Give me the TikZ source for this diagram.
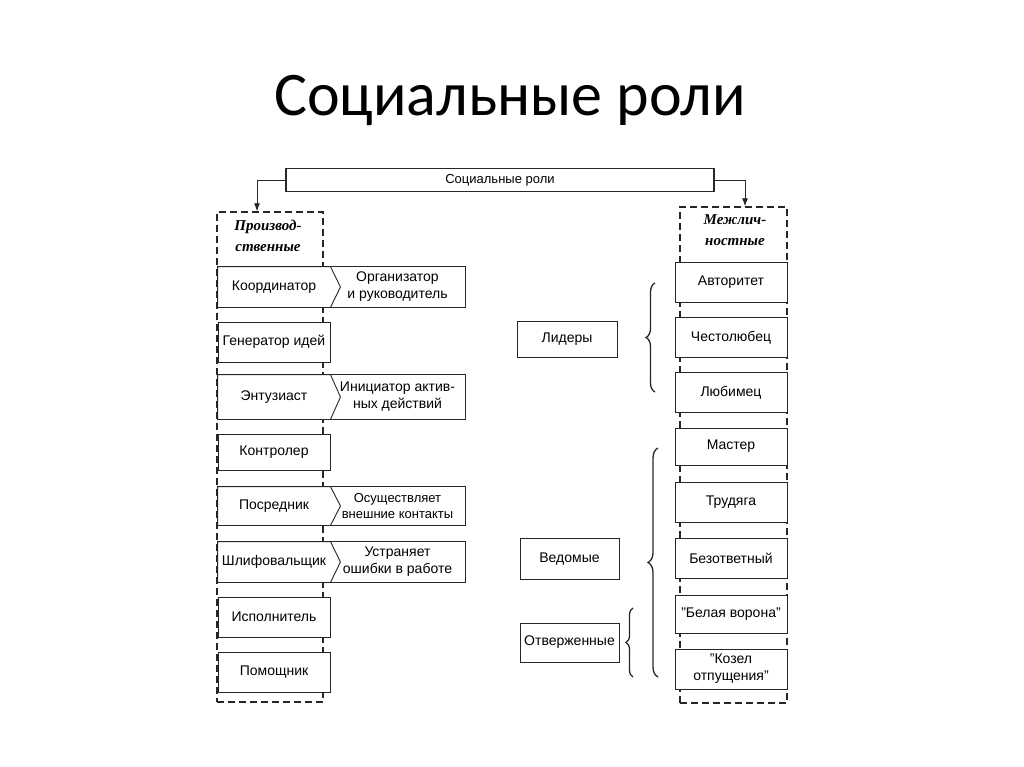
\documentclass[tikz,border=0pt]{standalone}
\usepackage{fontspec}
\setmainfont{Liberation Sans}
\newfontfamily\titlefont{Carlito}
\newfontfamily\headfont{Liberation Serif}
\usetikzlibrary{positioning}
\usetikzlibrary{arrows.meta,decorations.pathreplacing}

\begin{document}
\begin{tikzpicture}[x=1pt,y=-1pt,
   line/.style={draw=black!85,line width=0.9pt},
   role/.style={line,fill=white,font=\fontsize{14}{17}\selectfont,align=center,inner sep=0pt,minimum width=112pt,minimum height=40pt},
   plain/.style={role,draw=none},
   note/.style={plain,minimum width=135pt},
   group/.style={line,line width=1.4pt,dash pattern=on 7pt off 4pt},
   head/.style={font=\headfont\itshape\bfseries\fontsize{15}{21}\selectfont,align=center},
   brc/.style={line,line width=1.3pt,decorate,decoration={brace,amplitude=#1}},
   tip/.style={line,-{Latex[length=8pt,width=6pt]}}]
   \useasboundingbox (0,0) rectangle (1024,767);

   \node[font=\titlefont\fontsize{62}{70}\selectfont] (title) at (510,100) {Социальные роли};
   \node[line,line width=1.6pt,minimum width=428pt,minimum height=23pt,inner sep=0pt,font=\fontsize{13}{15}\selectfont] (top) at (500,180) {Социальные роли};

   % production roles
   \node[group,minimum width=106pt,minimum height=490pt] (prod) at (270,457) {};
   \node[head] (prodh) at (268,236) {Производ-\\ственные};
   \node[plain] (koord) at (274,287) {Координатор};
   \node[note] (org) at (397.5,287) {Организатор\\и руководитель};
   \node[role] (gen) at (274,342) {Генератор идей};
   \node[plain,minimum height=44pt] (entuz) at (274,397) {Энтузиаст};
   \node[note,minimum height=44pt] (init) at (397.5,397) {Инициатор актив-\\ных действий};
   \node[role,minimum height=36pt] (kontr) at (274,452) {Контролер};
   \node[plain,minimum height=38pt] (posr) at (274,506) {Посредник};
   \node[note,minimum height=38pt,font=\fontsize{13}{16}\selectfont] (vnesh) at (397.5,506) {Осуществляет\\внешние контакты};
   \node[plain] (shlif) at (274,562) {Шлифовальщик};
   \node[note] (oshib) at (397.5,562) {Устраняет\\ошибки в работе};
   \node[role] (ispol) at (274,617) {Исполнитель};
   \node[role] (pomosh) at (274,672) {Помощник};

   \draw[line] (koord.north east) -- (koord.north west) -- (koord.south west) -- (koord.south east) -- ([xshift=10pt]koord.east) -- cycle;
   \draw[line] (koord.north east) -- (org.north east) -- (org.south east) -- (koord.south east);
   \draw[line] (entuz.north east) -- (entuz.north west) -- (entuz.south west) -- (entuz.south east) -- ([xshift=10pt]entuz.east) -- cycle;
   \draw[line] (entuz.north east) -- (init.north east) -- (init.south east) -- (entuz.south east);
   \draw[line] (posr.north east) -- (posr.north west) -- (posr.south west) -- (posr.south east) -- ([xshift=10pt]posr.east) -- cycle;
   \draw[line] (posr.north east) -- (vnesh.north east) -- (vnesh.south east) -- (posr.south east);
   \draw[line] (shlif.north east) -- (shlif.north west) -- (shlif.south west) -- (shlif.south east) -- ([xshift=10pt]shlif.east) -- cycle;
   \draw[line] (shlif.north east) -- (oshib.north east) -- (oshib.south east) -- (shlif.south east);

   % interpersonal roles
   \node[group,minimum width=107pt,minimum height=496pt] (inter) at (733.5,455) {};
   \node[head] (interh) at (735,230) {Межлич-\\ностные};
   \node[role] (avt) at (731,282) {Авторитет};
   \node[role] (chest) at (731,337.5) {Честолюбец};
   \node[role] (lyub) at (731,392.5) {Любимец};
   \node[role,minimum height=37pt] (master) at (731,446.5) {Мастер};
   \node[role] (trud) at (731,502.5) {Трудяга};
   \node[role] (bezot) at (731,558) {Безответный};
   \node[role,minimum height=38pt] (belaya) at (731,614) {"Белая ворона"};
   \node[role] (kozel) at (731,669) {"Козел\\отпущения"};

   \node[role,minimum width=100pt,minimum height=36pt] (lider) at (567,339) {Лидеры};
   \node[role,minimum width=99pt,minimum height=41pt] (vedom) at (569.5,559) {Ведомые};
   \node[role,minimum width=99pt,minimum height=39pt] (otverzh) at (569.5,642.5) {Отверженные};

   \draw[brc=9pt] (655,392) -- (655,283);
   \draw[brc=10pt] (658,677) -- (658,448);
   \draw[brc=7pt] (633,677) -- (633,608);

   \draw[tip] (top.west) -| ([xshift=-13pt]prod.north);
   \draw[tip] (top.east) -| ([xshift=11.5pt]inter.north);
\end{tikzpicture}
\end{document}
